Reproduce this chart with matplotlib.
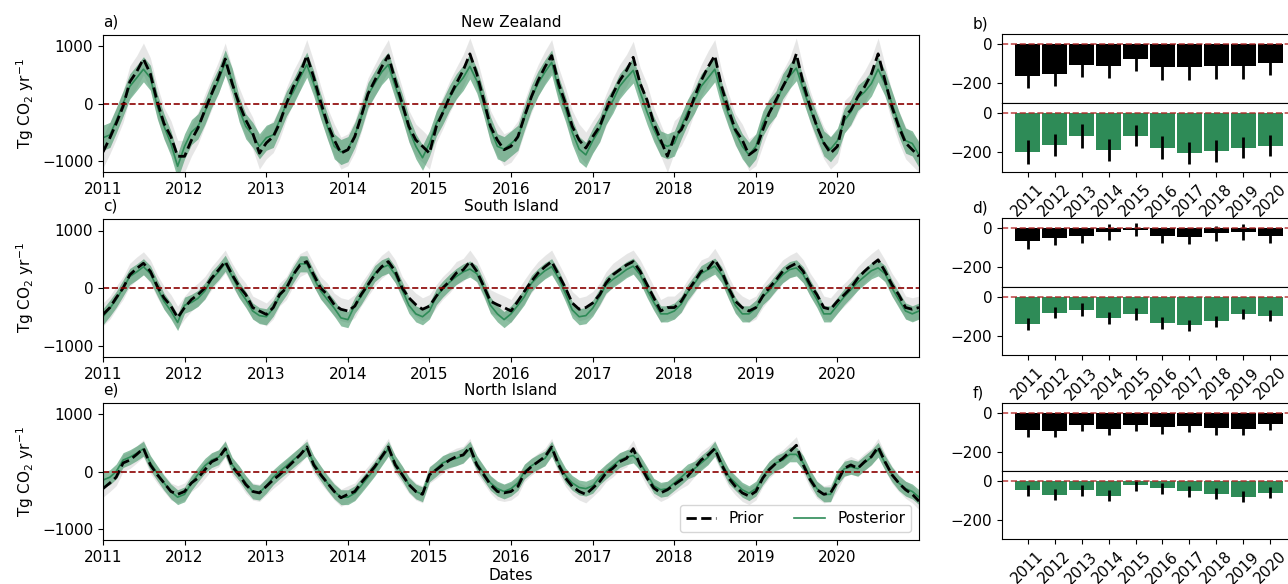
import numpy as np
import pandas as pd
import matplotlib.pyplot as plt
import matplotlib.dates as mdates

plt.rcParams['font.size'] = 11

# monthly values (1st of each month 2011-2020, plus 31 Dec 2020), Tg CO2 / yr
dates = list(pd.date_range('2011-01-01', periods=120, freq='MS')) + [pd.Timestamp('2020-12-31')]

nz_prior = [-850, -600, -350, -50, 380, 560, 780, 520, 30, -350, -580, -925,
            -925, -640, -430, -115, 170, 460, 780, 350, 0, -290, -520, -870,
            -690, -580, -350, 0, 290, 520, 840, 460, 30, -350, -640, -870,
            -810, -580, -230, 170, 400, 640, 840, 400, 0, -400, -640, -750,
            -870, -400, -170, 115, 350, 580, 870, 520, 60, -400, -640, -810,
            -750, -580, -230, 115, 400, 640, 840, 350, 0, -400, -640, -780,
            -580, -400, -115, 170, 400, 580, 810, 350, 60, -350, -640, -925,
            -580, -460, -230, 115, 400, 640, 840, 290, -115, -460, -640, -900,
            -810, -460, -170, 60, 290, 520, 870, 350, -60, -400, -690, -870,
            -750, -230, -115, 115, 290, 520, 870, 400, -60, -400, -690, -810, -925]
nz_post = [-600, -550, -300, 0, 300, 450, 600, 450, -50, -400, -700, -1100,
           -750, -500, -400, -150, 150, 400, 720, 400, -100, -400, -550, -750,
           -600, -550, -300, 0, 200, 450, 680, 350, -50, -400, -750, -850,
           -800, -550, -250, 150, 350, 550, 680, 300, -50, -450, -750, -950,
           -700, -350, -150, 100, 300, 450, 650, 400, 0, -450, -750, -800,
           -700, -600, -250, 100, 350, 550, 720, 250, -100, -500, -800, -900,
           -650, -450, -150, 50, 300, 450, 580, 200, -150, -450, -700, -750,
           -700, -400, -150, 50, 300, 450, 600, 150, -200, -500, -750, -900,
           -750, -350, -150, 0, 300, 480, 620, 250, -100, -400, -700, -800,
           -650, -300, -150, 100, 200, 350, 600, 350, 0, -350, -650, -700, -900]

si_prior = [-460, -340, -170, 0, 230, 340, 430, 290, 30, -170, -315, -515,
            -340, -200, -115, 0, 170, 315, 460, 230, 30, -115, -340, -400,
            -460, -340, -115, 0, 230, 400, 460, 230, 0, -115, -290, -370,
            -400, -315, -115, 57, 230, 370, 460, 290, 0, -170, -290, -370,
            -315, -140, 0, 115, 260, 315, 460, 290, 30, -230, -290, -340,
            -400, -230, -57, 115, 260, 370, 460, 230, 0, -260, -370, -340,
            -260, -115, 85, 230, 315, 400, 460, 290, 57, -170, -400, -340,
            -340, -230, -57, 115, 290, 340, 490, 290, 0, -230, -340, -400,
            -340, -140, 0, 140, 290, 370, 430, 290, 57, -115, -340, -370,
            -230, -115, 0, 170, 290, 400, 490, 290, 57, -115, -340, -370, -340]
si_post = [-500, -350, -200, 0, 200, 280, 370, 250, 0, -230, -400, -600,
           -300, -250, -180, -50, 150, 280, 430, 200, -30, -200, -400, -480,
           -500, -350, -150, 20, 230, 420, 420, 170, -50, -200, -350, -520,
           -550, -300, -150, 50, 250, 350, 400, 230, -30, -300, -450, -500,
           -400, -150, -20, 100, 200, 280, 330, 250, 0, -300, -450, -550,
           -450, -300, -150, 80, 200, 300, 370, 170, -100, -380, -500, -480,
           -350, -150, 50, 150, 230, 320, 380, 230, -30, -250, -450, -450,
           -400, -280, -80, 80, 250, 320, 380, 230, -50, -300, -450, -450,
           -350, -150, -50, 100, 230, 320, 350, 230, 0, -200, -450, -450,
           -300, -150, -30, 100, 200, 300, 350, 250, 0, -200, -400, -450, -400]

ni_prior = [-300, -200, -100, 150, 200, 300, 405, 115, -57, -200, -350, -400,
            -350, -200, -115, 30, 170, 230, 400, 85, -57, -230, -350, -375,
            -260, -145, -57, 57, 170, 290, 430, 115, -57, -200, -350, -460,
            -400, -350, -200, -57, 85, 260, 430, 115, -57, -230, -350, -400,
            -57, 30, 115, 200, 260, 290, 430, 115, -57, -230, -350, -375,
            -350, -260, -30, 85, 170, 260, 430, 115, -115, -260, -350, -400,
            -290, -175, -30, 57, 170, 230, 400, 115, -115, -290, -375, -320,
            -230, -145, -85, 57, 200, 290, 400, 115, -115, -260, -375, -430,
            -350, -115, 30, 145, 230, 345, 460, 115, -145, -320, -400, -375,
            -175, 57, 115, 57, 170, 260, 430, 170, -57, -200, -320, -400, -520]
ni_post = [-150, -100, 0, 200, 250, 320, 400, 150, -30, -200, -350, -450,
           -400, -200, -50, 100, 200, 250, 400, 120, -30, -200, -350, -370,
           -250, -100, 0, 100, 200, 300, 400, 150, -30, -200, -350, -450,
           -450, -380, -250, -100, 50, 230, 400, 150, -30, -230, -350, -400,
           -50, 50, 150, 200, 230, 280, 400, 150, -30, -200, -300, -350,
           -300, -200, 0, 100, 170, 230, 400, 150, -70, -200, -280, -300,
           -250, -100, 0, 100, 200, 250, 280, 150, -50, -250, -320, -300,
           -200, -100, 0, 50, 150, 250, 400, 150, -80, -200, -320, -380,
           -300, -100, 50, 150, 200, 300, 300, 150, -100, -300, -400, -400,
           -100, 50, 80, 50, 150, 250, 380, 150, -50, -200, -300, -350, -450]

# uncertainty half-widths (prior, posterior)
nz_unc = (280, 220)
si_unc = (200, 140)
ni_unc = (150, 130)

# annual totals
years = ['2011', '2012', '2013', '2014', '2015', '2016', '2017', '2018', '2019', '2020']
nz_bar_prior = [-162, -152, -108, -113, -78, -118, -118, -113, -113, -97]
nz_bar_prior_err = [61, 61, 62, 59, 62, 64, 64, 64, 64, 63]
nz_bar_post = [-198, -162, -117, -188, -117, -176, -203, -193, -176, -167]
nz_bar_post_err = [59, 57, 63, 54, 53, 58, 55, 55, 55, 53]
si_bar_prior = [-65, -50, -39, -22, -9, -39, -44, -27, -22, -39]
si_bar_prior_err = [44, 39, 38, 40, 34, 38, 38, 38, 40, 38]
si_bar_post = [-141, -83, -66, -109, -88, -136, -148, -126, -88, -98]
si_bar_post_err = [32, 29, 32, 29, 30, 30, 29, 28, 26, 28]
ni_bar_prior = [-89, -96, -61, -85, -61, -73, -68, -78, -83, -56]
ni_bar_prior_err = [34, 31, 35, 32, 35, 37, 33, 37, 34, 34]
ni_bar_post = [-50, -71, -50, -77, -24, -40, -55, -66, -82, -61]
ni_bar_post_err = [30, 28, 30, 29, 27, 30, 30, 28, 28, 28]

green = 'seagreen'
W, H = 1288, 584
fig = plt.figure(figsize=(W / 100, H / 100), dpi=100)

panels = [
    ('New Zealand', 'a)', 'b)', nz_prior, nz_post, nz_unc,
     nz_bar_prior, nz_bar_prior_err, nz_bar_post, nz_bar_post_err, (35, 172), (34, 103, 172)),
    ('South Island', 'c)', 'd)', si_prior, si_post, si_unc,
     si_bar_prior, si_bar_prior_err, si_bar_post, si_bar_post_err, (219, 357), (218, 287, 355)),
    ('North Island', 'e)', 'f)', ni_prior, ni_post, ni_unc,
     ni_bar_prior, ni_bar_prior_err, ni_bar_post, ni_bar_post_err, (403, 540), (403, 471, 539)),
]

for k, (name, lab1, lab2, prior, post, unc, bp, bpe, bq, bqe, (t, b), (bt, bm, bb)) in enumerate(panels):
    # time series
    ax = fig.add_axes([103 / W, 1 - b / H, (919 - 103) / W, (b - t) / H])
    prior = np.array(prior)
    post = np.array(post)
    ax.fill_between(dates, prior - unc[0], prior + unc[0], color='lightgrey', alpha=0.55, lw=0)
    ax.fill_between(dates, post - unc[1], post + unc[1], color=green, alpha=0.55, lw=0)
    ax.plot(dates, post, color=green, lw=1.2, label='Posterior')
    ax.plot(dates, prior, 'k--', lw=2, label='Prior')
    ax.axhline(0, color='darkred', ls='--', lw=1.2)
    ax.set_ylim(-1200, 1200)
    ax.set_xlim(pd.Timestamp('2011-01-01'), pd.Timestamp('2020-12-31'))
    ax.xaxis.set_major_locator(mdates.YearLocator())
    ax.xaxis.set_major_formatter(mdates.DateFormatter('%Y'))
    ax.set_ylabel('Tg CO$_2$ yr$^{-1}$')
    ax.set_title(name, fontsize=11, pad=6)
    ax.set_title(lab1, loc='left', fontsize=11, pad=6)
    if k == 2:
        ax.set_xlabel('Dates', labelpad=2)
        h, l = ax.get_legend_handles_labels()
        ax.legend(h[::-1], l[::-1], loc='lower right', ncol=2, fontsize=11)

    # annual bars, prior on top and posterior below
    x = np.arange(len(years))
    ax1 = fig.add_axes([1002 / W, 1 - bm / H, 294 / W, (bm - bt) / H])
    ax2 = fig.add_axes([1002 / W, 1 - bb / H, 294 / W, (bb - bm) / H])
    ax1.bar(x, bp, width=0.9, color='black', yerr=bpe, ecolor='black',
            error_kw=dict(lw=2, capsize=0))
    ax2.bar(x, bq, width=0.9, color=green, yerr=bqe, ecolor='black',
            error_kw=dict(lw=2, capsize=0))
    for a in (ax1, ax2):
        a.axhline(0, color='firebrick', ls='--', lw=1.2, alpha=0.8)
        a.set_ylim(-300, 50)
        a.set_yticks([0, -200])
    ax1.set_xticks([])
    ax2.set_xticks(x)
    ax2.set_xticklabels(years, rotation=45)
    ax1.text(-0.1, 1.03, lab2, transform=ax1.transAxes, fontsize=11, va='bottom')

plt.savefig('out.png', dpi=100)
